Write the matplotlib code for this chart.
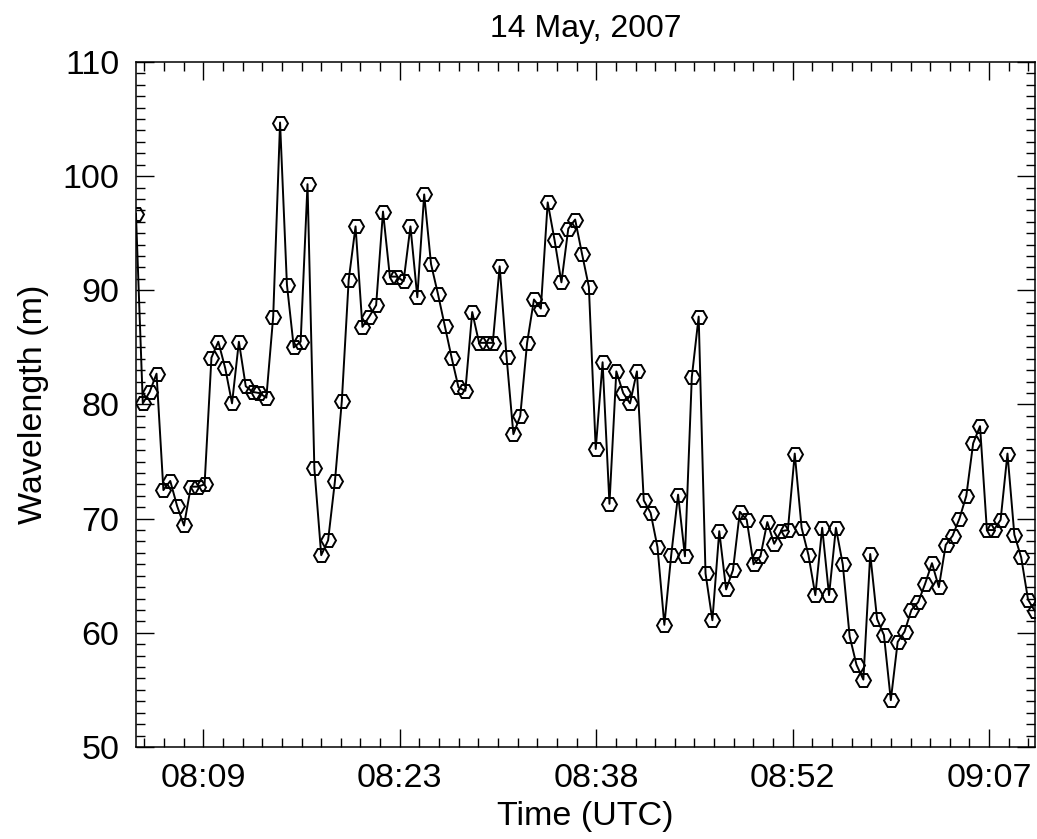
#!/usr/bin/env python3

'''
Wavelength time series for 14 May 2007, IDL-style axes
'''

import numpy as np
import matplotlib
matplotlib.use('Agg')
import matplotlib.pyplot as plt
from matplotlib.ticker import AutoMinorLocator

# wavelength samples (m), one every ~30 s
wavelength = [
    96.7, 80.1, 81.1, 82.7, 72.5, 73.3, 71.1, 69.4, 72.8, 72.8,
    73.0, 84.1, 85.5, 83.2, 80.1, 85.5, 81.6, 81.1, 81.0, 80.6,
    87.7, 104.7, 90.5, 85.0, 85.5, 99.3, 74.4, 66.8, 68.1, 73.3,
    80.3, 90.9, 95.6, 86.8, 87.7, 88.7, 96.9, 91.2, 91.2, 90.8,
    95.6, 89.4, 98.4, 92.3, 89.7, 86.9, 84.1, 81.5, 81.2, 88.1,
    85.4, 85.4, 85.4, 92.1, 84.2, 77.4, 79.0, 85.4, 89.2, 88.4,
    97.7, 94.4, 90.7, 95.4, 96.2, 93.2, 90.3, 76.1, 83.7, 71.3,
    82.9, 81.0, 80.1, 82.9, 71.6, 70.5, 67.5, 60.7, 66.8, 72.1,
    66.7, 82.4, 87.7, 65.2, 61.1, 68.9, 63.8, 65.5, 70.6, 69.9,
    66.0, 66.7, 69.7, 67.8, 68.9, 69.0, 75.7, 69.2, 66.8, 63.3,
    69.2, 63.3, 69.2, 66.0, 59.7, 57.2, 55.9, 66.9, 61.2, 59.8,
    54.1, 59.2, 60.1, 62.0, 62.7, 64.3, 66.1, 64.0, 67.7, 68.5,
    70.0, 72.0, 76.6, 78.1, 69.0, 69.0, 69.9, 75.7, 68.6, 66.6,
    62.9, 61.9,
]

# time span of the record, minutes after 08:00 UTC
t_first = 4.03
t_last = 70.38

tick_minutes = [9.0, 23.5, 38.0, 52.5, 67.0]
tick_labels = ['08:09', '08:23', '08:38', '08:52', '09:07']
y_ticks = [50, 60, 70, 80, 90, 100, 110]

plt.rcParams['font.family'] = ['Liberation Sans', 'DejaVu Sans']

times = np.linspace(t_first, t_last, len(wavelength))

fig = plt.figure(figsize=(10.37, 8.39), dpi=100)
ax = fig.add_axes([0.1311, 0.1097, 0.8669, 0.8164])

ax.plot(times, wavelength, color='black', linewidth=1.4,
        marker='H', markersize=10.8, markerfacecolor='none',
        markeredgecolor='black', markeredgewidth=1.4)

ax.set_xlim(t_first, t_last)
ax.set_ylim(50, 110)
ax.set_xticks(tick_minutes, tick_labels)
ax.set_yticks(y_ticks)
ax.xaxis.set_minor_locator(AutoMinorLocator(10))
ax.yaxis.set_minor_locator(AutoMinorLocator(10))

ax.tick_params(which='both', direction='in', top=True, right=True,
               width=1.0, labelsize=24.5)
ax.tick_params(which='major', length=13.3)
ax.tick_params(which='minor', length=6.8)
ax.tick_params(axis='x', pad=11.5)
ax.tick_params(axis='y', pad=12)
for s in ax.spines.values():
    s.set_linewidth(1.1)

ax.set_xlabel('Time (UTC)', fontsize=24.5, labelpad=5)
ax.set_ylabel('Wavelength (m)', fontsize=24.5, labelpad=10)
ax.set_title('14 May, 2007', fontsize=23, pad=18)

plt.savefig('out.png', dpi=100)
